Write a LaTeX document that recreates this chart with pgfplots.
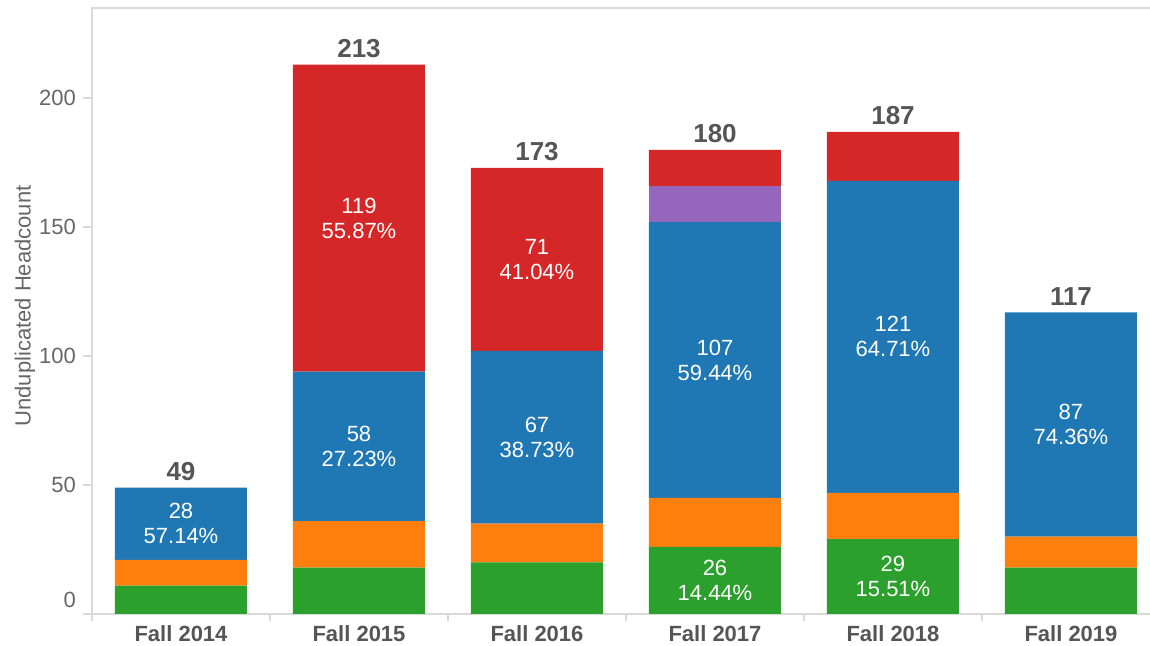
\documentclass[border=0pt]{standalone}
\usepackage{pgfplots}
\pgfplotsset{compat=1.18}
\usepackage{fontspec}
\setmainfont{Liberation Sans}
\definecolor{tblue}{HTML}{1F77B4}
\definecolor{torange}{HTML}{FF7F0E}
\definecolor{tgreen}{HTML}{2CA02C}
\definecolor{tred}{HTML}{D62728}
\definecolor{tpurple}{HTML}{9467BD}
\definecolor{linecol}{HTML}{D9D9D9}
\definecolor{ticktext}{HTML}{666666}
\definecolor{darktext}{HTML}{555555}
\tikzset{inl/.style={text=white, align=center, font=\fontsize{11}{12.5}\selectfont},
         tot/.style={text=darktext, font=\fontsize{13}{15}\selectfont\bfseries, yshift=8pt}}
\begin{document}
\begin{tikzpicture}
\useasboundingbox (0,0) rectangle (575pt,323pt);
\begin{axis}[
  at={(46pt,16pt)}, anchor=south west,
  width=529pt, height=303pt, scale only axis,
  xmin=-0.5, xmax=5.444, ymin=0, ymax=235,
  ybar stacked, bar width=66pt,
  axis line style={draw=none},
  tick align=outside,
  xtick={0,1,2,3,4,5},
  xticklabels={Fall 2014,Fall 2015,Fall 2016,Fall 2017,Fall 2018,Fall 2019},
  xtick pos=bottom, ytick pos=left,
  major x tick style={draw=none},
  minor xtick={-0.5,0.5,1.5,2.5,3.5,4.5},
  minor x tick style={linecol, line width=0.8pt},
  minor tick length=3.5pt,
  major tick length=4.5pt,
  y tick style={linecol, line width=0.8pt},
  ytick={0,50,100,150,200},
  yticklabels={\raisebox{14pt}{0},50,100,150,200},
  x tick label style={font=\fontsize{11}{13}\selectfont\bfseries, text=darktext, yshift=2.5pt},
  y tick label style={font=\fontsize{11}{13}\selectfont, text=ticktext},
  every axis plot/.append style={draw=none},
  clip=false,
]
\addplot[fill=tgreen] coordinates {(0,11) (1,18) (2,20) (3,26) (4,29) (5,18)};
\addplot[fill=torange] coordinates {(0,10) (1,18) (2,15) (3,19) (4,18) (5,12)};
\addplot[fill=tblue] coordinates {(0,28) (1,58) (2,67) (3,107) (4,121) (5,87)};
\addplot[fill=tpurple] coordinates {(0,0) (1,0) (2,0) (3,14) (4,0) (5,0)};
\addplot[fill=tred] coordinates {(0,0) (1,119) (2,71) (3,14) (4,19) (5,0)};
\draw[linecol, line width=0.8pt] (rel axis cs:0,0) -- (rel axis cs:0,1) -- (rel axis cs:1,1);
\draw[linecol, line width=0.8pt] ([xshift=-4.5pt]rel axis cs:0,0) -- (rel axis cs:1,0);
\coordinate (l1) at (axis cs:0,35);
\coordinate (l2) at (axis cs:1,65);
\coordinate (l3) at (axis cs:1,153.5);
\coordinate (l4) at (axis cs:2,68.5);
\coordinate (l5) at (axis cs:2,137.5);
\coordinate (l6) at (axis cs:3,13);
\coordinate (l7) at (axis cs:3,98.5);
\coordinate (l8) at (axis cs:4,14.5);
\coordinate (l9) at (axis cs:4,107.5);
\coordinate (l10) at (axis cs:5,73.5);
\coordinate (t1) at (axis cs:0,49);
\coordinate (t2) at (axis cs:1,213);
\coordinate (t3) at (axis cs:2,173);
\coordinate (t4) at (axis cs:3,180);
\coordinate (t5) at (axis cs:4,187);
\coordinate (t6) at (axis cs:5,117);
\end{axis}
\node[inl] at (l1) {28\\57.14\%};
\node[inl] at (l2) {58\\27.23\%};
\node[inl] at (l3) {119\\55.87\%};
\node[inl] at (l4) {67\\38.73\%};
\node[inl] at (l5) {71\\41.04\%};
\node[inl] at (l6) {26\\14.44\%};
\node[inl] at (l7) {107\\59.44\%};
\node[inl] at (l8) {29\\15.51\%};
\node[inl] at (l9) {121\\64.71\%};
\node[inl] at (l10) {87\\74.36\%};
\node[tot] at (t1) {49};
\node[tot] at (t2) {213};
\node[tot] at (t3) {173};
\node[tot] at (t4) {180};
\node[tot] at (t5) {187};
\node[tot] at (t6) {117};
\node[rotate=90, text=ticktext, font=\fontsize{11}{13}\selectfont] at (12.5pt,170pt) {Unduplicated Headcount};
\end{tikzpicture}
\end{document}
